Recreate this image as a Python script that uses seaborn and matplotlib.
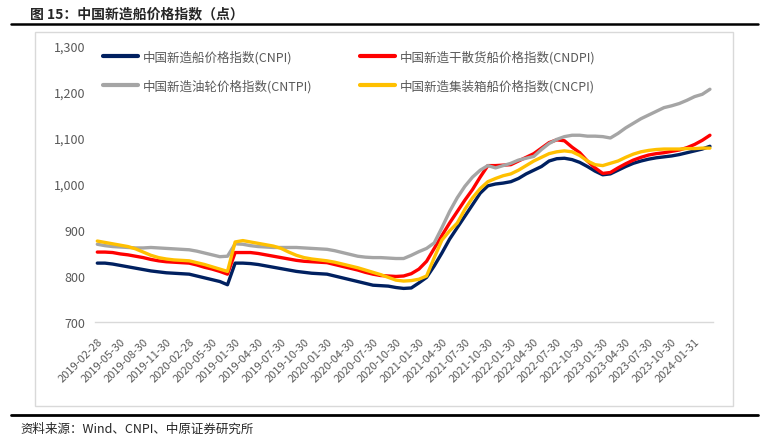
import matplotlib
matplotlib.use("Agg")
import matplotlib.pyplot as plt
import seaborn as sns
import pandas as pd
from matplotlib.lines import Line2D
from matplotlib.patches import Rectangle
from matplotlib.ticker import FuncFormatter

# tick labels shown every 3 months (as printed on the original chart)
tick_labels = ["2019-02-28", "2019-05-30", "2019-08-30", "2019-11-30", "2020-02-28",
               "2020-05-30", "2019-01-30", "2019-04-30", "2019-07-30", "2019-10-30",
               "2020-01-30", "2020-04-30", "2020-07-30", "2020-10-30", "2021-01-30",
               "2021-04-30", "2021-07-30", "2021-10-30", "2022-01-30", "2022-04-30",
               "2022-07-30", "2022-10-30", "2023-01-30", "2023-04-30", "2023-07-30",
               "2023-10-30", "2024-01-31"]

series_names = ["中国新造船价格指数(CNPI)", "中国新造干散货船价格指数(CNDPI)",
                "中国新造油轮价格指数(CNTPI)", "中国新造集装箱船价格指数(CNCPI)"]

cnpi = [828, 828, 826, 823, 820, 817, 814, 811, 809, 807, 806, 805, 804, 800, 796, 792, 788, 781,
        828, 828, 827, 825, 822, 819, 816, 813, 810, 808, 806, 805, 804, 800, 796, 792, 788, 784,
        780, 779, 778, 775, 773, 774, 785,
        797, 822, 850, 880, 905, 930, 955, 980, 996, 1000, 1002, 1005, 1012, 1022, 1030, 1038,
        1050, 1055, 1056, 1053, 1047, 1038, 1028, 1020, 1022, 1030, 1038, 1045, 1050, 1054,
        1057, 1059, 1061, 1064, 1068, 1072, 1076, 1082]

cndpi = [852, 852, 851, 848, 846, 843, 840, 836, 833, 831, 830, 829, 828, 824, 819, 815, 810, 804,
         851, 851, 851, 849, 846, 843, 840, 837, 834, 832, 831, 830, 829, 825, 821, 817, 813, 808,
         804, 801, 800, 799, 800, 805, 815,
         832, 860, 888, 915, 940, 965, 988, 1015, 1040, 1040, 1041, 1042, 1050, 1058, 1066, 1078,
         1090, 1096, 1094, 1080, 1068, 1050, 1035, 1023, 1025, 1035, 1044, 1052, 1058, 1063,
         1066, 1068, 1071, 1074, 1079, 1086, 1095, 1106]

cntpi = [869, 866, 864, 863, 862, 861, 861, 862, 861, 860, 859, 858, 857, 854, 850, 846, 842, 843,
         870, 869, 866, 864, 863, 862, 862, 862, 862, 861, 860, 859, 858, 855, 851, 847, 843, 841,
         840, 840, 839, 838, 838, 845, 853,
         860, 872, 905, 940, 970, 995, 1015, 1030, 1040, 1035, 1040, 1045, 1052, 1056, 1060, 1075,
         1088, 1097, 1103, 1106, 1106, 1104, 1104, 1103, 1100, 1110, 1122, 1132, 1142, 1150,
         1158, 1166, 1170, 1175, 1182, 1190, 1195, 1206]

cncpi = [876, 873, 870, 867, 864, 859, 852, 845, 840, 837, 835, 834, 833, 829, 825, 820, 815, 810,
         874, 877, 874, 871, 868, 865, 860, 852, 845, 840, 837, 835, 833, 830, 826, 822, 818, 813,
         808, 803, 797, 791, 789, 790, 793,
         800, 840, 878, 898, 915, 945, 970, 990, 1005, 1012, 1018, 1022, 1030, 1040, 1050, 1058,
         1066, 1070, 1072, 1070, 1062, 1050, 1042, 1040, 1045, 1050, 1058, 1065, 1070, 1073,
         1075, 1076, 1076, 1076, 1077, 1077, 1078, 1078]

colors = ["#002060", "#FF0000", "#A5A5A5", "#FFC000"]

frames = []
for name, vals in zip(series_names, [cnpi, cndpi, cntpi, cncpi]):
    frames.append(pd.DataFrame({"idx": range(len(vals)), "value": vals, "series": name}))
df = pd.concat(frames, ignore_index=True)

sns.set_style("white")
plt.rcParams["font.family"] = ["Noto Sans CJK SC", "DejaVu Sans"]

fig = plt.figure(figsize=(7.7, 4.39), dpi=100)
W, H = 770, 439
ax = fig.add_axes([95 / W, 1 - 323 / H, (713 - 95) / W, (323 - 47) / H])

sns.lineplot(data=df, x="idx", y="value", hue="series", hue_order=series_names,
             palette=colors, linewidth=2.4, ax=ax)

ax.set_ylim(700, 1300)
ax.set_xlim(-0.3, 80.4)
ax.set_yticks(range(700, 1301, 100))
ax.yaxis.set_major_formatter(FuncFormatter(lambda v, p: f"{int(v):,}"))
ax.set_xticks(range(0, 3 * len(tick_labels), 3))
ax.set_xticklabels(tick_labels, rotation=45, ha="right", va="top", rotation_mode="anchor")
ax.tick_params(axis="x", labelsize=8, colors="#595959", length=0, pad=10)
ax.tick_params(axis="y", labelsize=9, colors="#595959", length=0, pad=7)
ax.set_xlabel("")
ax.set_ylabel("")
for s in ["top", "right", "left"]:
    ax.spines[s].set_visible(False)
ax.spines["bottom"].set_color("#D9D9D9")
ax.spines["bottom"].set_linewidth(1)

handles, labels = ax.get_legend_handles_labels()
order = [0, 2, 1, 3]
leg = ax.legend([handles[i] for i in order], [labels[i] for i in order], ncol=2,
                loc="upper left", bbox_to_anchor=(103 / W, 1 - 51 / H),
                bbox_transform=fig.transFigure, frameon=False, fontsize=9,
                handlelength=2.8, handletextpad=0.4, columnspacing=3.8,
                labelspacing=1.25, borderpad=0, borderaxespad=0)
for t in leg.get_texts():
    t.set_color("#595959")
for h in leg.get_lines():
    h.set_linewidth(3)

# frame and header/footer decorations
fig.add_artist(Rectangle((35 / W, 1 - 407 / H), (733 - 35) / W, (407 - 33) / H,
                         transform=fig.transFigure, fill=False, edgecolor="#D9D9D9", lw=1))
fig.add_artist(Line2D([11 / W, 758 / W], [1 - 25 / H, 1 - 25 / H], transform=fig.transFigure,
                      color="black", lw=1.8))
fig.add_artist(Line2D([11 / W, 758 / W], [1 - 416 / H, 1 - 416 / H], transform=fig.transFigure,
                      color="black", lw=2))
fig.text(30 / W, 1 - 14 / H, "图 15：中国新造船价格指数（点）", fontsize=10,
         fontweight="bold", va="center", ha="left")
fig.text(20 / W, 1 - 429 / H, "资料来源：Wind、CNPI、中原证券研究所", fontsize=9,
         va="center", ha="left")

fig.savefig("out.png", dpi=100)
